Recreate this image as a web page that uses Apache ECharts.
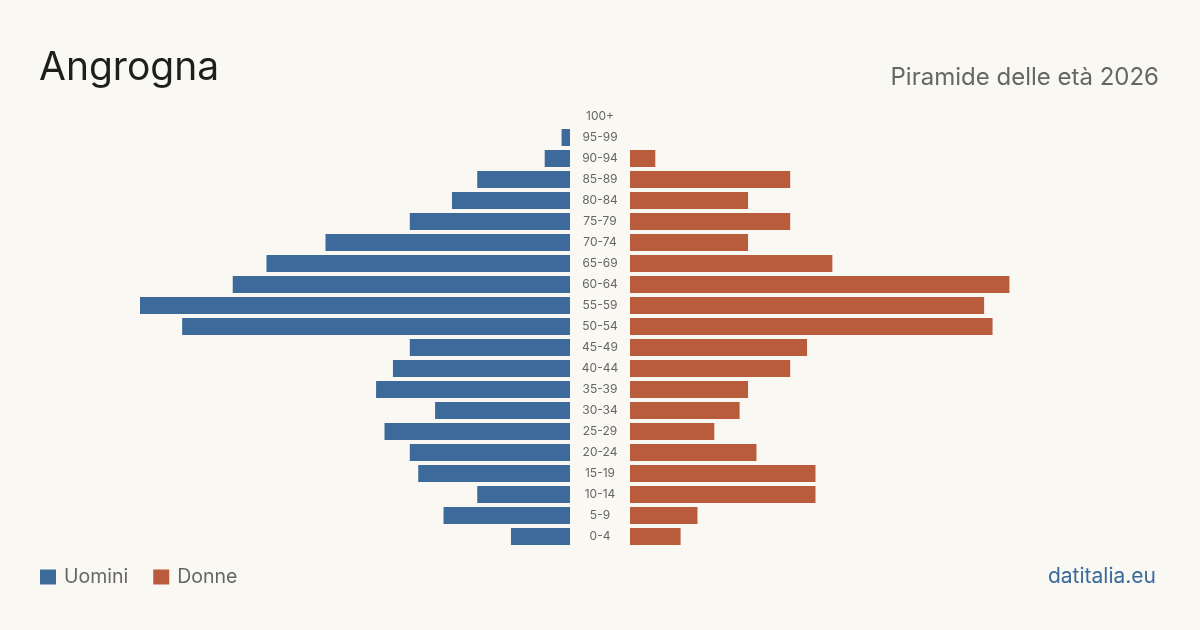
<!DOCTYPE html>
<html>
<head>
<meta charset="utf-8">
<script src="https://cdn.jsdelivr.net/npm/echarts@6/dist/echarts.min.js"></script>
<style>
  html, body { margin: 0; padding: 0; background: #f9f8f3; }
  #main { width: 1200px; height: 630px; }
</style>
</head>
<body>
<div id="main"></div>
<script>
// fasce d'eta, dall'alto verso il basso
var classi = ['100+', '95-99', '90-94', '85-89', '80-84', '75-79', '70-74', '65-69', '60-64', '55-59',
    '50-54', '45-49', '40-44', '35-39', '30-34', '25-29', '20-24', '15-19', '10-14', '5-9', '0-4']
var uomini = [0, 1, 3, 11, 14, 19, 29, 36, 40, 51, 46, 19, 21, 23, 16, 22, 19, 18, 11, 15, 7]
var donne = [0, 0, 3, 19, 14, 19, 14, 24, 45, 42, 43, 21, 19, 14, 13, 10, 15, 22, 22, 8, 6]

var blu = '#3b6a9b'
var rosso = '#b95c3b'
var font = 'Inter, "Noto Sans", sans-serif'
var maxv = Math.max(Math.max.apply(null, uomini), Math.max.apply(null, donne))

var chart = echarts.init(document.getElementById('main'))

var option = {
    backgroundColor: '#f9f8f3',
    animation: false,
    textStyle: { fontFamily: font },
    title: [
        {
            text: 'Angrogna',
            left: 34, top: 44,
            textStyle: { fontSize: 39, fontWeight: 'normal', color: '#1e1e1e', fontFamily: font }
        },
        {
            text: 'Piramide delle età 2026',
            right: 36, top: 61,
            textStyle: { fontSize: 24, fontWeight: 'normal', color: '#666', fontFamily: font }
        },
        {
            text: 'datitalia.eu',
            right: 39, top: 561,
            textStyle: { fontSize: 21, fontWeight: 'normal', color: '#3b6a9b', fontFamily: font }
        }
    ],
    legend: {
        left: 40, top: 567,
        padding: 0,
        icon: 'rect',
        itemWidth: 16, itemHeight: 15,
        itemGap: 25,
        textStyle: { fontSize: 19.5, color: '#666', fontFamily: font, padding: [0, 0, 0, 3] },
        data: ['Uomini', 'Donne']
    },
    grid: [
        { left: 140, width: 430, top: 106, height: 441 },
        { left: 630, width: 430, top: 106, height: 441 }
    ],
    xAxis: [
        { gridIndex: 0, type: 'value', min: 0, max: maxv, inverse: true, show: false },
        { gridIndex: 1, type: 'value', min: 0, max: maxv, show: false }
    ],
    yAxis: [
        {
            gridIndex: 0, type: 'category', data: classi, inverse: true, position: 'right',
            axisLine: { show: false }, axisTick: { show: false },
            axisLabel: { align: 'center', margin: 30, fontSize: 12, color: '#666', fontFamily: font, padding: [4, 0, 0, 0] }
        },
        {
            gridIndex: 1, type: 'category', data: classi, inverse: true,
            axisLine: { show: false }, axisTick: { show: false }, axisLabel: { show: false }
        }
    ],
    series: [
        {
            name: 'Uomini', type: 'bar', xAxisIndex: 0, yAxisIndex: 0,
            data: uomini, barWidth: 17, itemStyle: { color: blu }
        },
        {
            name: 'Donne', type: 'bar', xAxisIndex: 1, yAxisIndex: 1,
            data: donne, barWidth: 17, itemStyle: { color: rosso }
        }
    ]
}

chart.setOption(option)
</script>
</body>
</html>
